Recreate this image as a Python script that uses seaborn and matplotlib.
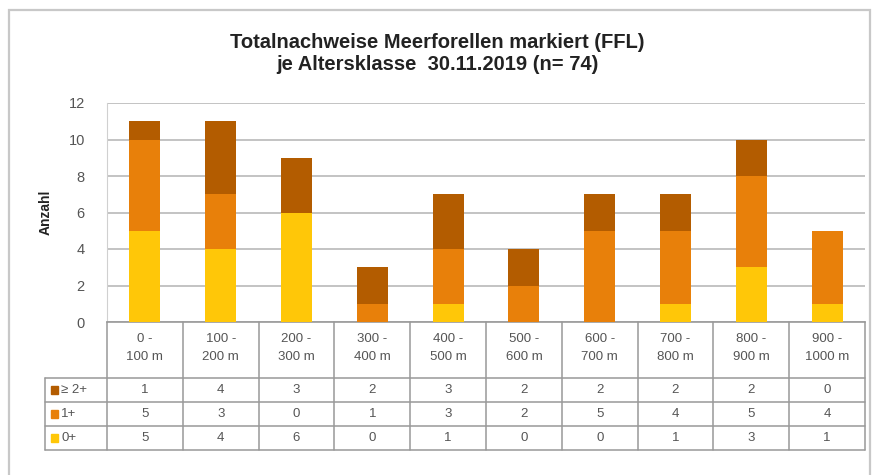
import matplotlib
matplotlib.use("Agg")
import matplotlib.pyplot as plt
import matplotlib.transforms as mtransforms
from matplotlib.patches import Rectangle
import numpy as np
import pandas as pd
import seaborn as sns

# Distance classes along the stretch
categories = ["0 -\n100 m", "100 -\n200 m", "200 -\n300 m", "300 -\n400 m", "400 -\n500 m",
              "500 -\n600 m", "600 -\n700 m", "700 -\n800 m", "800 -\n900 m", "900 -\n1000 m"]
# Counts per age class
age_0 = [5, 4, 6, 0, 1, 0, 0, 1, 3, 1]
age_1 = [5, 3, 0, 1, 3, 2, 5, 4, 5, 4]
age_2 = [1, 4, 3, 2, 3, 2, 2, 2, 2, 0]
series_names = ["\u2265 2+", "1+", "0+"]
series_colors = ["#B35C00", "#E8800A", "#FFC708"]
yticks = [0, 2, 4, 6, 8, 10, 12]

W, H = 873, 475
fig = plt.figure(figsize=(W / 100, H / 100), dpi=100)
sns.set_style("white")
plt.rcParams["font.family"] = ["Liberation Sans", "DejaVu Sans"]

def fx(px):
    return px / W

def fy(py):
    return 1 - py / H

# outer chart frame
fig.patches.append(Rectangle((fx(9), fy(478)), fx(861), fy(10) - fy(478),
                             transform=fig.transFigure, fill=False,
                             edgecolor="#C8C8C8", linewidth=1.6))

left, right, top, bottom = 107, 865, 103, 322
ax = fig.add_axes([fx(left), fy(bottom), fx(right) - fx(left), fy(top) - fy(bottom)])

df = pd.DataFrame({"cat": categories, "a0": age_0, "a1": age_1, "a2": age_2})
df["s01"] = df["a0"] + df["a1"]
df["s012"] = df["s01"] + df["a2"]

# stacked bars: draw cumulative totals from the top layer down
for col, color in zip(["s012", "s01", "a0"], series_colors):
    sns.barplot(data=df, x="cat", y=col, color=color, width=0.41,
                saturation=1, ax=ax, order=categories, zorder=3,
                linewidth=0, edgecolor=color)

ax.set_ylim(0, 12)
ax.set_xlim(-0.5, len(categories) - 0.5)
ax.set_yticks(yticks)
ax.set_yticklabels([str(t) for t in yticks], color="#555555", fontsize=10.5)
ax.yaxis.grid(True, color="#BEBEBE", linewidth=1.3, zorder=0)
ax.set_axisbelow(True)
ax.tick_params(axis="y", length=0, pad=16)
ax.set_xticks([])
ax.set_xlabel("")
ax.set_ylabel("Anzahl", fontsize=10, fontweight="bold", color="#222222", labelpad=11)
for s in ["top", "right"]:
    ax.spines[s].set_visible(False)
ax.spines["left"].set_color("#D0D0D0")
ax.spines["bottom"].set_color("#999999")
ax.spines["bottom"].set_linewidth(1.2)

# data table under the plot
tr = mtransforms.blended_transform_factory(ax.transData, fig.transFigure)
line_kw = dict(color="#999999", linewidth=1.1, clip_on=False)
n = len(categories)
row_y = [378, 402, 426, 450]
x_left_data = ax.transData.inverted().transform((fig.transFigure.transform((fx(45), 0))[0], 0))[0]

for i in range(n + 1):
    xb = i - 0.5
    fig.add_artist(plt.Line2D([xb, xb], [fy(bottom), fy(row_y[-1])], transform=tr, **line_kw))
for yy in row_y:
    fig.add_artist(plt.Line2D([x_left_data, n - 0.5], [fy(yy), fy(yy)], transform=tr, **line_kw))
fig.add_artist(plt.Line2D([x_left_data, x_left_data], [fy(row_y[0]), fy(row_y[-1])], transform=tr, **line_kw))

for i, cat in enumerate(categories):
    fig.text(i, fy(348), cat, transform=tr, ha="center", va="center",
             fontsize=9.5, color="#555555", linespacing=1.6)

rows = [age_2, age_1, age_0]
for r, (vals, name, color) in enumerate(zip(rows, series_names, series_colors)):
    yc = fy((row_y[r] + row_y[r + 1]) / 2)
    for i, v in enumerate(vals):
        fig.text(i, yc, str(v), transform=tr, ha="center", va="center",
                 fontsize=9.5, color="#555555")
    fig.patches.append(Rectangle((fx(51), yc - 0.008), fx(7), 0.016,
                                 transform=fig.transFigure, color=color))
    fig.text(fx(61), yc, name, ha="left", va="center", fontsize=9.5, color="#555555")

fig.text(fx(437), fy(54), "Totalnachweise Meerforellen markiert (FFL)\nje Altersklasse  30.11.2019 (n= 74)",
         ha="center", va="center", fontsize=14.5, fontweight="bold", color="#222222",
         family=["Liberation Sans Narrow", "Liberation Sans", "DejaVu Sans"], linespacing=1.2)

fig.savefig("out.png", dpi=100)
